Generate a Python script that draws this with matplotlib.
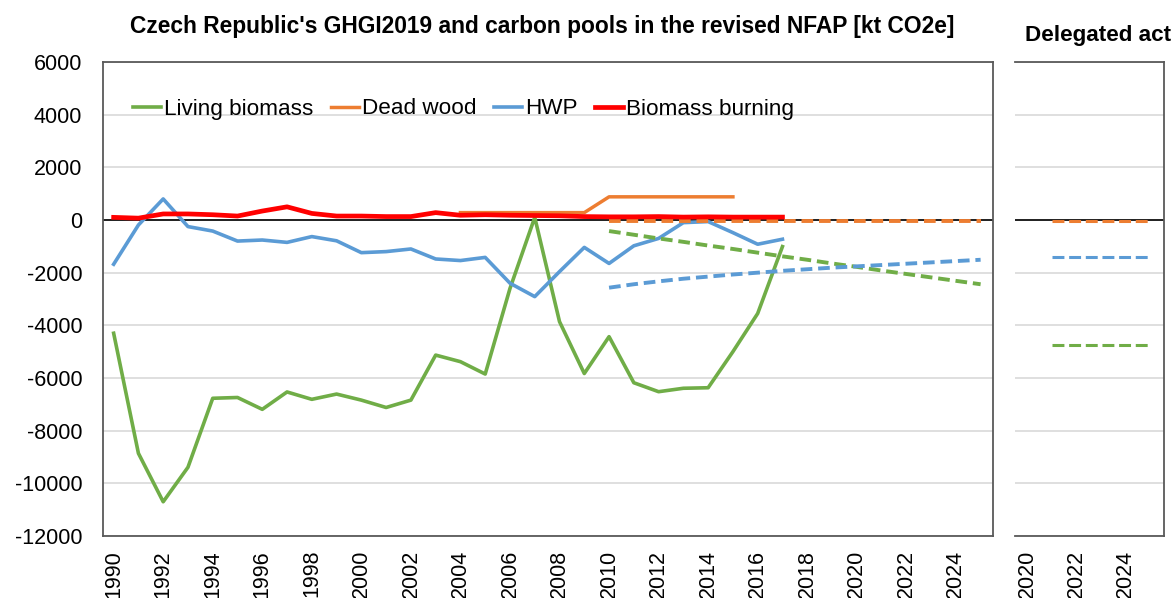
import matplotlib
matplotlib.use("Agg")
import matplotlib.pyplot as plt
import numpy as np

plt.rcParams['font.family'] = ['Liberation Sans', 'DejaVu Sans']
plt.rcParams['axes.unicode_minus'] = False

years = list(range(1990, 2018))
living_biomass = [-4300, -8860, -10700, -9390, -6770, -6740, -7190, -6530, -6810, -6610,
	-6840, -7120, -6840, -5130, -5380, -5850, -2600, 100, -3860, -5830,
	-4430, -6180, -6520, -6390, -6370, -5000, -3550, -1010]
hwp = [-1680, -190, 800, -250, -420, -800, -760, -850, -630, -790,
	-1240, -1200, -1100, -1480, -1540, -1420, -2400, -2910, -1960, -1040,
	-1650, -980, -700, -100, -60, -480, -920, -730]
biomass_burning = [100, 70, 230, 230, 200, 150, 340, 500, 250, 150,
	150, 130, 130, 280, 180, 200, 180, 170, 160, 130,
	120, 120, 130, 110, 120, 110, 110, 110]

dead_years = list(range(2004, 2016))
dead_wood = [280, 280, 280, 280, 280, 280, 880, 880, 880, 880, 880, 880]

proj_years = list(range(2010, 2026))
proj_living = [-420, -560, -700, -830, -970, -1100, -1240, -1380, -1510, -1650,
	-1780, -1920, -2050, -2180, -2310, -2440]
proj_hwp = [-2570, -2440, -2330, -2230, -2150, -2070, -2000, -1930, -1870, -1810,
	-1760, -1710, -1660, -1610, -1560, -1510]
proj_dead = [-20, -20, -20, -20, -20, -20, -20, -20, -20, -20,
	-20, -20, -20, -20, -20, -20]

da_years = [2021, 2022, 2023, 2024, 2025]
da_living = [-4740, -4740, -4740, -4740, -4740]
da_hwp = [-1400, -1400, -1400, -1400, -1400]
da_dead = [-20, -20, -20, -20, -20]

green = "#70AD47"
orange = "#ED7D31"
blue = "#5B9BD5"
red = "#FF0000"
fs = 15.5

W, H = 1174, 598
fig = plt.figure(figsize=(W/100, H/100), dpi=100)
ax = fig.add_axes([103/W, 1-536/H, 890/W, 474/H])
ax2 = fig.add_axes([1015/W, 1-536/H, 149/W, 474/H])

for a in (ax, ax2):
	a.set_ylim(-12000, 6000)
	a.set_yticks(np.arange(-12000, 6001, 2000))
	a.grid(axis='y', color='#D9D9D9', lw=1.2, zorder=0)
	a.set_axisbelow(True)
	a.axhline(0, color='black', lw=1.2, zorder=1)
	for s in a.spines.values():
		s.set_color('#595959')
		s.set_linewidth(1.3)
	a.tick_params(length=0, labelsize=fs)
	a.tick_params(axis='x', rotation=90, pad=10)
	a.tick_params(axis='y', pad=15)

ax.set_xlim(1989.57, 2025.5)
ax.set_xticks(range(1990, 2025, 2))
ax2.set_xlim(2019.5, 2025.6)
ax2.set_xticks([2020, 2022, 2024])
ax2.set_yticklabels([])
ax2.spines['left'].set_visible(False)

ax.plot(years, living_biomass, color=green, lw=2.6, label='Living biomass', zorder=3)
ax.plot(dead_years, dead_wood, color=orange, lw=2.5, label='Dead wood', zorder=3)
ax.plot(years, hwp, color=blue, lw=2.6, label='HWP', zorder=3)
ax.plot(years, biomass_burning, color=red, lw=3.4, label='Biomass burning', zorder=4)

dash = (0, (3.0, 1.5))
ax.plot(proj_years, proj_dead, color=orange, lw=2.8, ls=dash, zorder=3)
ax.plot(proj_years, proj_living, color=green, lw=2.8, ls=dash, zorder=3)
ax.plot(proj_years, proj_hwp, color=blue, lw=2.8, ls=dash, zorder=3)

dash2 = (0, (3.9, 1.55))
ax2.plot(da_years, da_dead, color=orange, lw=2.2, ls=dash2, zorder=3)
ax2.plot(da_years, da_hwp, color=blue, lw=2.2, ls=dash2, zorder=3)
ax2.plot(da_years, da_living, color=green, lw=2.2, ls=dash2, zorder=3)

ax.legend(loc='center left', bbox_to_anchor=(30/890, 1-47/474), ncol=4, frameon=False,
	fontsize=16.2, handlelength=1.25, handletextpad=0.15, columnspacing=0.75,
	borderpad=0, borderaxespad=0)

fig.text(542/W, 1-27/H, "Czech Republic's GHGI2019 and carbon pools in the revised NFAP [kt CO2e]",
	ha='center', va='center', fontsize=16.4, fontweight='bold')
fig.text(1025/W, 1-36/H, "Delegated act", ha='left', va='center', fontsize=16.2, fontweight='bold')

fig.savefig("out.png", dpi=100)
